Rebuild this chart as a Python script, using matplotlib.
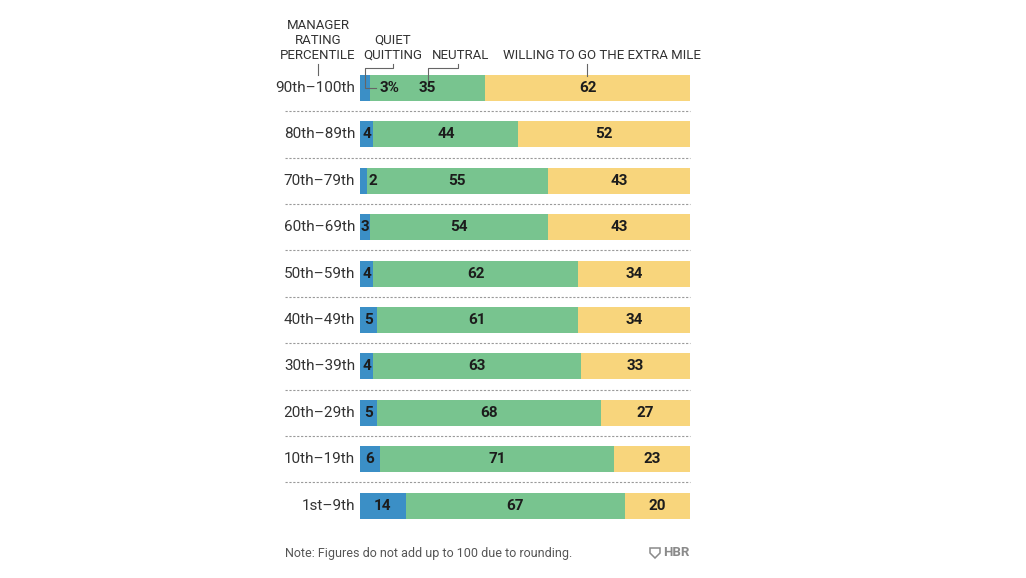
import matplotlib
matplotlib.use("Agg")
import matplotlib.pyplot as plt
from matplotlib.patches import Polygon
import numpy as np

# manager rating percentile groups, top row first
groups = ["90th–100th", "80th–89th", "70th–79th", "60th–69th", "50th–59th",
          "40th–49th", "30th–39th", "20th–29th", "10th–19th", "1st–9th"]
quiet = [3, 4, 2, 3, 4, 5, 4, 5, 6, 14]
neutral = [35, 44, 55, 54, 62, 61, 63, 68, 71, 67]
extra = [62, 52, 43, 43, 34, 34, 33, 27, 23, 20]

BLUE = "#3b8fc6"
GREEN = "#78c48f"
YELLOW = "#f8d57c"
DARK = "#1c1c1c"
GREY = "#333333"
FAM = ["Roboto", "DejaVu Sans"]

W, H = 1026, 578
fig = plt.figure(figsize=(W / 100, H / 100), dpi=100)
fig.patch.set_facecolor("white")

# axes in pixel terms: bars run from x=360 to 690, rows every ~46.4px
row_h = 46.4
top = 88 - row_h / 2
ax = fig.add_axes([360 / W, 1 - (top + 10 * row_h) / H, 330 / W, 10 * row_h / H])

q = np.array(quiet, float)
n = np.array(neutral, float)
e = np.array(extra, float)
tot = q + n + e
# rows are scaled to full width (some don't add to 100 due to rounding)
qs, ns, es = q / tot * 100, n / tot * 100, e / tot * 100
y = np.arange(len(groups))
bh = 0.56

ax.barh(y, qs, height=bh, color=BLUE, linewidth=0)
ax.barh(y, ns, left=qs, height=bh, color=GREEN, linewidth=0)
ax.barh(y, es, left=qs + ns, height=bh, color=YELLOW, linewidth=0)

ax.set_xlim(0, 100)
ax.set_ylim(len(groups) - 0.5, -0.5)
ax.axis("off")

vfont = dict(family=FAM, fontsize=11, fontweight="bold", color=DARK, va="center")
for i in range(len(groups)):
    if i == 0:
        ax.text(qs[i] + 3, y[i], f"{quiet[i]}%", ha="left", **vfont)
    elif quiet[i] < 3:
        ax.text(qs[i] + 0.7, y[i], str(quiet[i]), ha="left", **vfont)
    else:
        ax.text(qs[i] / 2, y[i], str(quiet[i]), ha="center", **vfont)
    ax.text(qs[i] + ns[i] / 2, y[i], str(neutral[i]), ha="center", **vfont)
    ax.text(qs[i] + ns[i] + es[i] / 2, y[i], str(extra[i]), ha="center", **vfont)
    ax.text(-0.015, y[i], groups[i], ha="right", va="center", family=FAM,
            fontsize=11, color=GREY, transform=ax.get_yaxis_transform())

# dashed separators between rows
ax.hlines(y[:-1] + 0.5, -0.227, 1.0, transform=ax.get_yaxis_transform(),
          colors="#9a9a9a", linestyles=(0, (2, 1.5)), linewidth=0.8, clip_on=False)


def px(xp, yp):
    return xp / W, 1 - yp / H


hfont = dict(family=FAM, fontsize=9.5, color=GREY, ha="center", va="bottom",
             linespacing=1.2)
fig.text(*px(318, 62), "MANAGER\nRATING\nPERCENTILE", **hfont)
fig.text(*px(393, 62), "QUIET\nQUITTING", **hfont)
fig.text(*px(461, 62), "NEUTRAL", **hfont)
fig.text(*px(602, 62), "WILLING TO GO THE EXTRA MILE", **hfont)

lk = dict(color="#666666", linewidth=0.8, transform=fig.transFigure)


def leader(pts):
    xs = [p[0] / W for p in pts]
    ys = [1 - p[1] / H for p in pts]
    fig.add_artist(plt.Line2D(xs, ys, **lk))


leader([(318, 64), (318, 75)])
leader([(393, 64), (393, 68), (365, 68), (365, 88), (376, 88)])
leader([(458, 64), (458, 68), (428, 68), (428, 80)])
leader([(587, 64), (587, 76)])

fig.text(*px(285, 553), "Note: Figures do not add up to 100 due to rounding.",
         family=FAM, fontsize=9, color="#555555", ha="left", va="center")
fig.text(*px(690, 553), "HBR", family=FAM, fontsize=9.5,
         fontweight="bold", color="#8a8a8a", ha="right", va="center")
# small shield logo drawn as a shape
shield = [(650, 548), (660, 548), (660, 553), (655, 558), (650, 553)]
fig.add_artist(Polygon([px(a, b) for a, b in shield], closed=True,
                       transform=fig.transFigure, facecolor="none",
                       edgecolor="#8a8a8a", linewidth=1.1))

fig.savefig("out.png", dpi=100, facecolor="white")
